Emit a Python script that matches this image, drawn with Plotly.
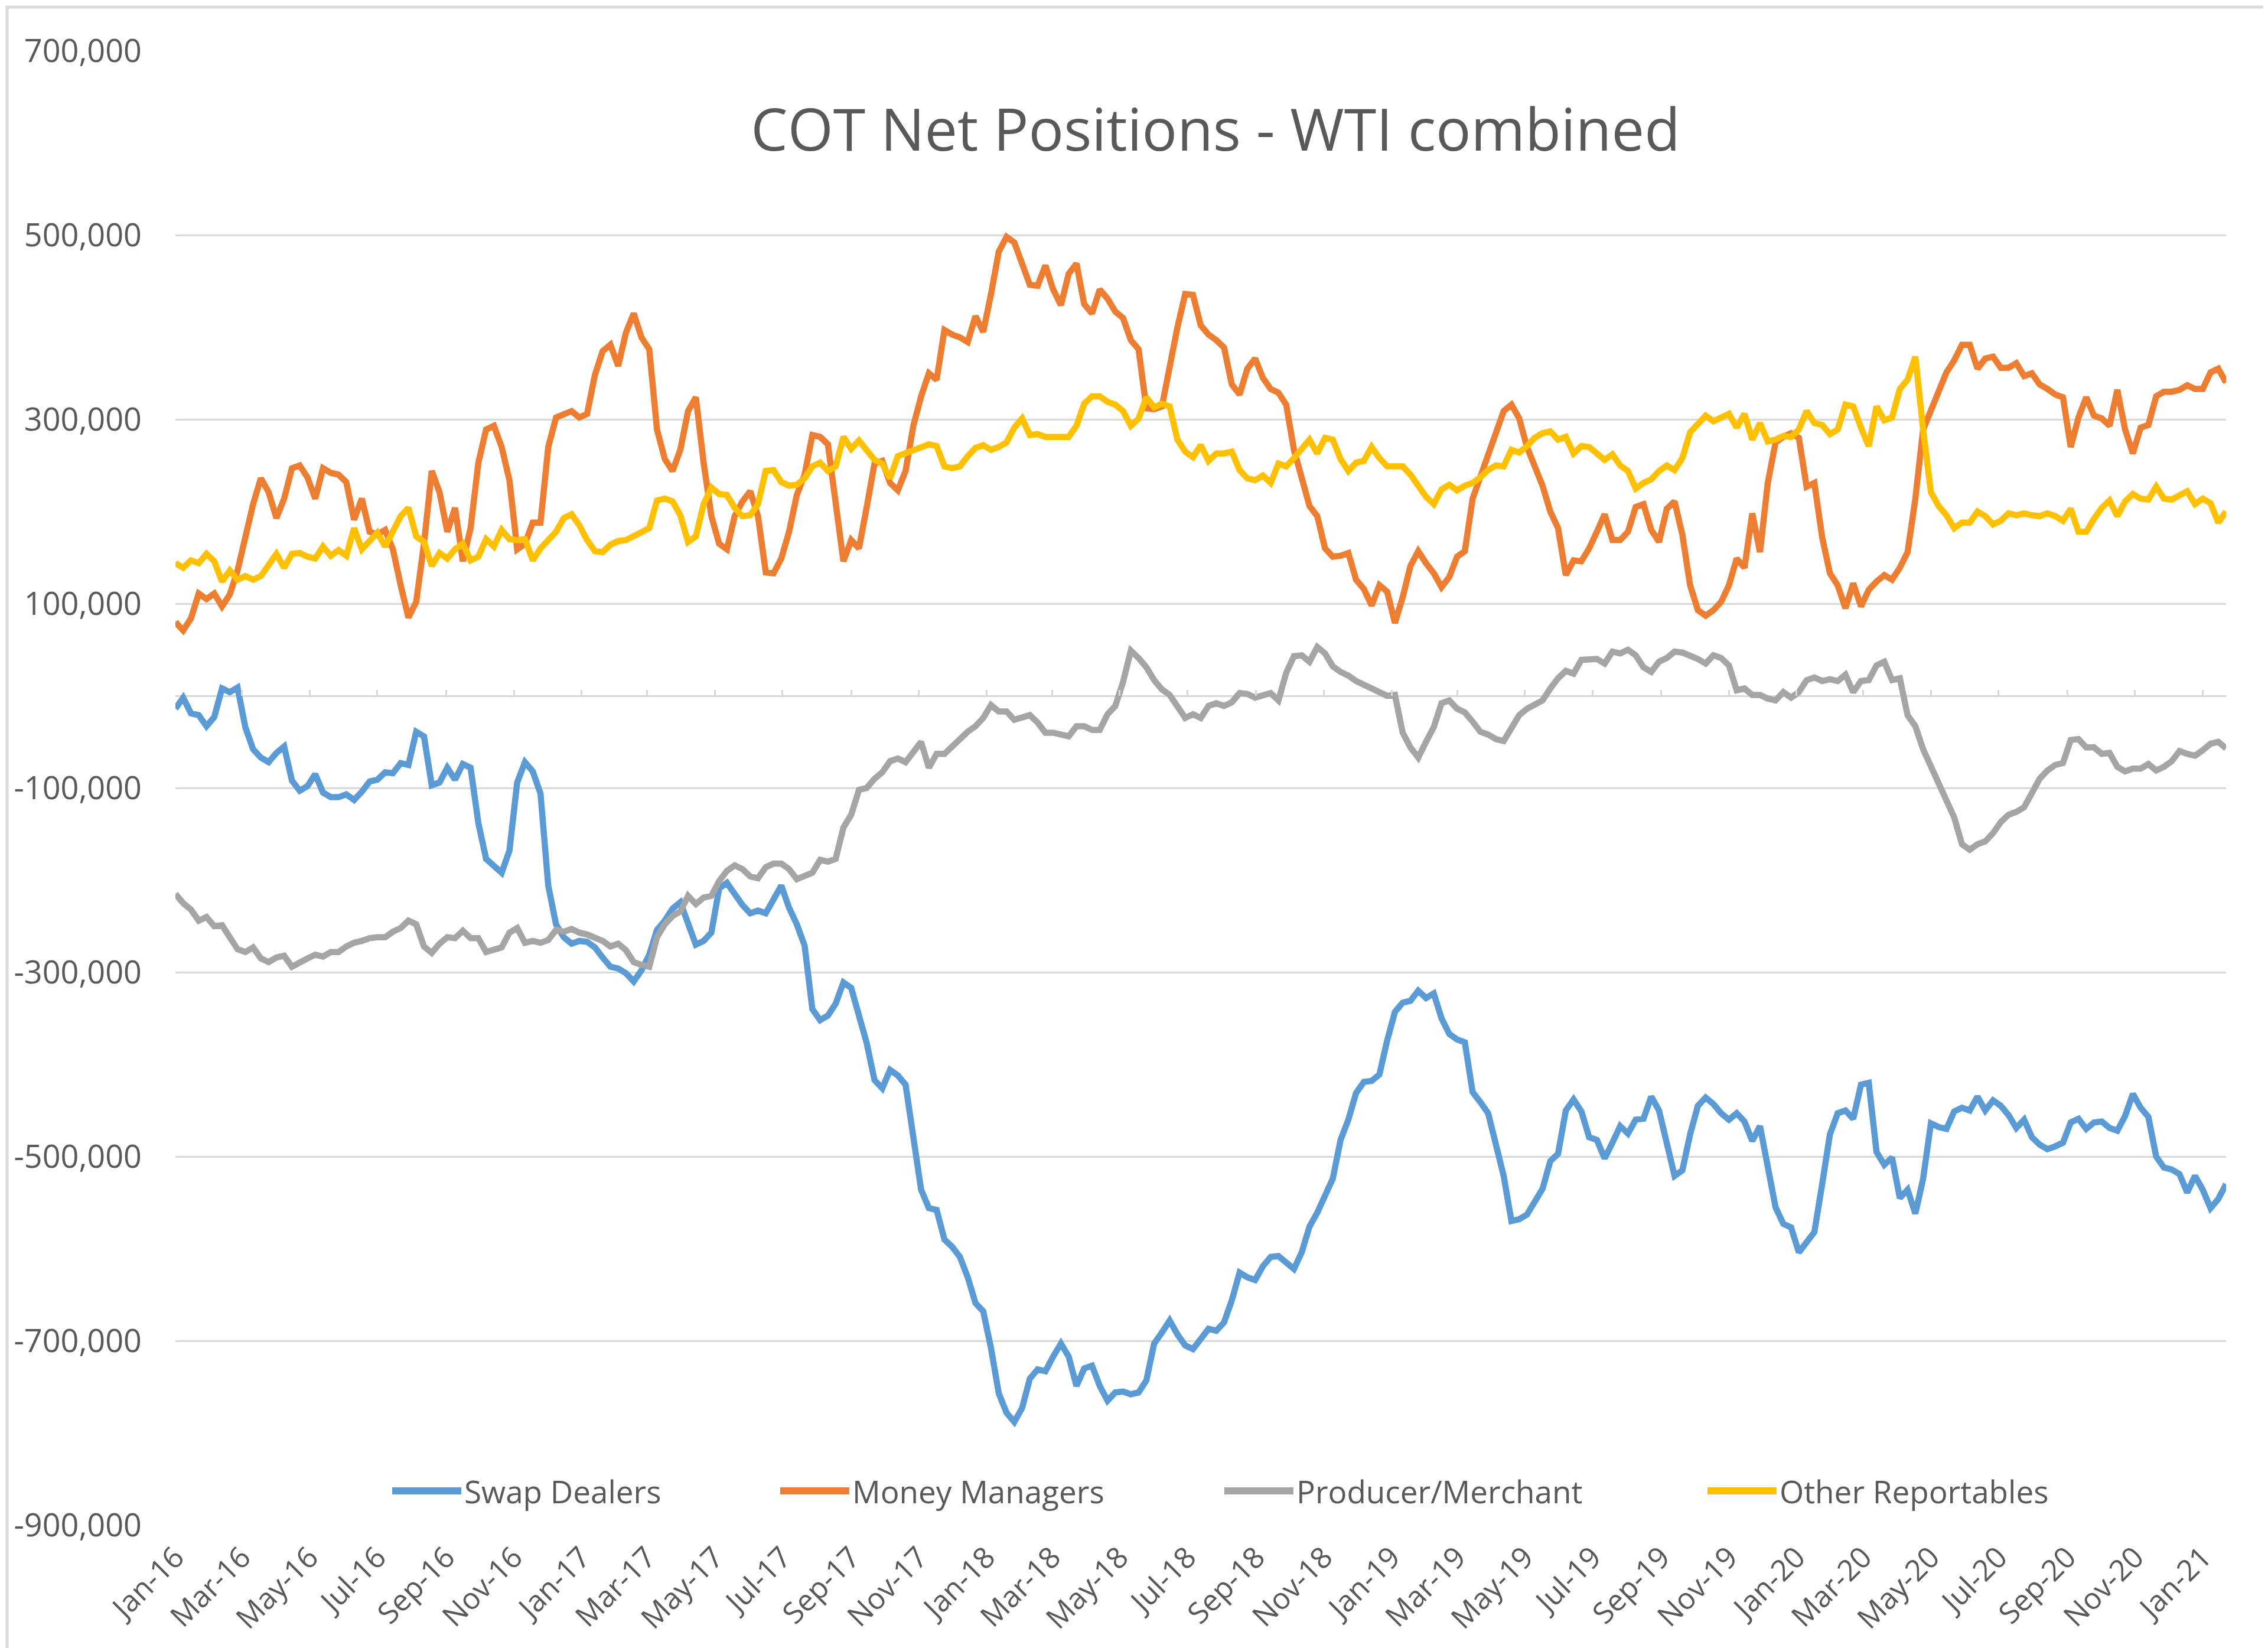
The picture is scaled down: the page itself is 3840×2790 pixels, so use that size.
import pandas as pd
import plotly.graph_objects as go

# weekly COT report dates (Tuesdays)
weeks = pd.date_range("2016-01-05", periods=265, freq="7D")
tick_dates = pd.date_range("2016-01-01", "2021-01-01", freq="2MS") + pd.Timedelta(days=4)
y_ticks = list(range(-900000, 700001, 200000))

# net positions, thousands of contracts
swap_dealers = [
    -14, -2, -19, -21, -33, -23, 8, 4, 9, -34,
    -58, -67, -72, -62, -55, -92, -103, -98, -85, -105,
    -110, -110, -107, -113, -104, -93, -91, -83, -84, -73,
    -75, -39, -44, -97, -94, -78, -91, -74, -78, -138,
    -177, -184, -192, -168, -94, -72, -82, -106, -206, -248,
    -262, -269, -266, -267, -273, -284, -294, -296, -301, -310,
    -298, -281, -254, -244, -231, -224, -245, -270, -266, -257,
    -209, -203, -215, -227, -236, -233, -236, -221, -206, -230,
    -248, -271, -340, -352, -347, -334, -311, -317, -345,
    -377, -417, -426, -406, -412, -422, -482, -536, -556, -558, -590,
    -598, -609, -631, -659, -668, -708, -757, -778, -788, -773,
    -741, -731, -733, -717, -703, -717, -749, -730, -727, -749,
    -765, -756, -755, -758, -756, -743, -703, -691, -678, -693,
    -705, -709, -697, -687, -689, -680, -656, -626, -631, -634,
    -619, -609, -608, -615, -622, -604, -576, -561, -543, -524,
    -482, -460, -431, -419, -418, -411, -374, -343, -333, -331,
    -320, -328, -323, -350, -367, -373, -376, -430, -441, -453,
    -487, -521, -570, -568, -563, -548, -535,
    -505, -497, -450,
    -438, -451, -479, -482, -502, -485, -467, -475, -460, -459,
    -435, -450, -487, -521, -515, -476, -445, -436, -443, -453,
    -460, -453, -462, -483, -467, -509, -555, -573, -577, -604,
    -593, -582, -530, -476, -453, -450, -459, -422, -420, -495,
    -509, -501, -545, -536, -562, -524, -464, -468, -470, -451,
    -447, -450, -435, -450, -439, -445, -455, -469, -460, -479,
    -487, -492, -489, -485, -463, -459, -470, -463, -462, -469,
    -472, -456, -432, -447, -457, -500, -512, -514, -519, -539,
    -521, -536, -556, -546, -530,
]

money_managers = [
    80, 71, 84, 111, 105, 111, 97, 110, 136, 175,
    208, 236, 221, 193, 214, 247, 250, 237, 214, 247,
    242, 240, 232, 191, 214, 178, 175, 180, 159, 120,
    85, 102, 165, 244, 221, 178, 204, 146, 182, 253,
    289, 293, 270, 234, 159, 165, 188, 188, 270, 302,
    306, 309, 302, 306, 348, 374, 381, 358, 394, 415,
    389, 376, 289, 257, 244, 267, 309, 324, 253, 195,
    165, 159, 195, 211, 222, 195, 134, 133, 149, 178,
    218, 240, 283, 281, 273, 214, 146, 169, 160,
    205, 252, 255, 231, 223, 244, 293, 325, 350, 343, 397,
    392, 389, 384, 412, 395, 436, 482, 498, 492, 469,
    446, 445, 467, 441, 424, 458, 469, 425, 415, 441,
    431, 417, 410, 386, 376, 312, 311, 314, 360, 400,
    436, 435, 402, 392, 386, 378, 338, 327, 355, 366,
    345, 333, 329, 316, 267, 234, 206, 195, 160, 151,
    152, 155, 126, 116, 98, 120, 113, 79, 107, 141,
    157, 144, 133, 118, 129, 151, 157, 214, 239, 260,
    289, 309, 316, 301, 270, 247,
    228, 200, 182, 131,
    147, 146, 160, 178, 197, 169, 169, 178, 205, 208,
    180, 167, 203, 211, 175, 120, 93, 87, 93, 102,
    120, 149, 139, 198, 156, 231, 275, 281, 285, 280,
    227, 231, 172, 133, 120, 95, 122, 97, 115, 124,
    131, 126, 139, 156, 214, 289, 309, 333, 351, 364,
    381, 381, 355, 366, 368, 356, 356, 361, 347, 350,
    338, 333, 327, 324, 270, 302, 324, 304, 301, 293,
    332, 289, 263, 291, 294, 325, 330, 330, 332, 337,
    333, 333, 351, 355, 340,
]

producer_merchant = [
    -215, -225, -232, -244, -240, -250, -249, -263, -275, -278,
    -273, -285, -289, -284, -282, -294, -289, -285, -281, -283,
    -278, -278, -272, -268, -266, -263, -262, -262, -256, -252,
    -244, -248, -272, -279, -269, -262, -263, -255, -263, -263,
    -278, -276, -273, -257, -252, -268, -266, -268, -265, -254,
    -256, -253, -257, -259, -262, -266, -272, -269, -276, -289,
    -292, -294, -262, -248, -239, -234, -217, -226, -219, -217,
    -201, -190, -184, -188, -196, -198, -186, -182, -182, -188,
    -199, -195, -192, -178, -180, -177, -143, -129, -102,
    -100, -90, -83, -71, -68, -72, -61, -50, -78, -63, -63,
    -54, -47, -39, -33, -24, -10, -17, -17, -26, -24,
    -21, -29, -40, -40, -42, -44, -33, -33, -37, -37,
    -20, -11, 15, 49, 41, 31, 17, 7, 1, -11,
    -24, -20, -24, -11, -8, -11, -7, 3, 2, -2,
    1, 3, -5, 25, 43, 44, 37, 53, 46, 32,
    26, 22, 16, 12, 8, 4, 0, 1, -40, -56,
    -67, -50, -34, -8, -5, -14, -18, -28, -39, -42,
    -47, -49, -35, -21, -14, -10,
    -5, 8, 19, 27,
    24, 39, 40, 40, 35, 48, 46, 50, 44, 31,
    26, 37, 41, 48, 47, 44, 40, 35, 44, 41,
    33, 6, 8, 1, 1, -3, -5, 4, -2, 4,
    17, 20, 16, 18, 16, 23, 4, 16, 17, 33,
    37, 17, 19, -21, -33, -58, -76, -93, -114, -132,
    -161, -167, -161, -158, -149, -137, -129, -126, -121, -104,
    -90, -81, -75, -73, -48, -47, -56, -56, -63, -62,
    -77, -82, -79, -79, -74, -81, -77, -71, -60, -63,
    -65, -59, -52, -50, -57,
]

other_reportables = [
    144, 139, 147, 144, 154, 146, 124, 136, 126, 130,
    126, 130, 142, 154, 139, 154, 155, 151, 149, 162,
    152, 158, 152, 182, 159, 169, 177, 162, 177, 195,
    204, 173, 167, 141, 155, 149, 159, 165, 147, 151,
    170, 162, 180, 170, 169, 170, 147, 160, 169, 178,
    193, 197, 185, 169, 157, 156, 164, 168, 169, 173,
    177, 182, 212, 214, 211, 196, 167, 173, 208, 226,
    219, 218, 204, 195, 196, 208, 244, 245, 232, 228,
    229, 236, 249, 253, 244, 249, 281, 268, 277,
    267, 256, 252, 236, 260, 263, 267, 270, 273, 271, 249,
    247, 249, 260, 269, 272, 267, 270, 275, 291, 301,
    283, 284, 281, 281, 281, 281, 293, 317, 325, 325,
    319, 316, 309, 293, 301, 324, 313, 317, 314, 278,
    265, 259, 272, 255, 263, 263, 265, 245, 236, 234,
    239, 231, 252, 249, 258, 269, 278, 263, 280, 278,
    257, 244, 253, 255, 270, 258, 249, 249, 249, 240,
    227, 216, 208, 224, 229, 223, 228, 231, 237, 245,
    250, 249, 267, 264, 271, 280,
    285, 287, 278, 281,
    263, 271, 270, 263, 256, 262, 250, 244, 225, 231,
    235, 244, 250, 245, 258, 286, 294, 304, 298, 302,
    306, 291, 306, 278, 296, 276, 278, 282, 281, 289,
    309, 296, 294, 284, 289, 316, 314, 291, 271, 314,
    299, 302, 333, 343, 368, 289, 221, 206, 196, 182,
    188, 188, 200, 195, 186, 190, 198, 196, 198, 196,
    195, 198, 195, 190, 203, 178, 178, 192, 204, 212,
    195, 211, 219, 214, 213, 227, 214, 213, 217, 222,
    208, 214, 209, 188, 200,
]

names = ["Swap Dealers", "Money Managers", "Producer/Merchant", "Other Reportables"]
colors = ["#5B9BD5", "#ED7D31", "#A5A5A5", "#FFC000"]
series = [swap_dealers, money_managers, producer_merchant, other_reportables]

FONT = "Open Sans"
GREY = "#595959"
GRID = "#D9D9D9"
x_range = [weeks[0], weeks[-1]]

fig = go.Figure()
for i, (name, vals) in enumerate(zip(names, series)):
    fig.add_scatter(
        x=weeks,
        y=[v * 1000 for v in vals],
        mode="lines",
        name=name,
        line={"color": colors[i], "width": 10.5},
        # last series sits on the overlay axis that carries the ticks at zero
        xaxis="x2" if i == 3 else "x",
        showlegend=False,
        hoverinfo="skip",
    )

# hand-made legend so the line samples are as long as Excel's
legend_x = [0.1057, 0.2949, 0.5115, 0.7471]
legend_y = 0.0232
for i, name in enumerate(names):
    x0 = legend_x[i]
    fig.add_shape(type="line", xref="paper", yref="paper",
                  x0=x0, x1=x0 + 0.0337, y0=legend_y, y1=legend_y,
                  line={"color": colors[i], "width": 12})
    fig.add_annotation(text=name, xref="paper", yref="paper",
                       x=x0 + 0.0347, y=legend_y, xanchor="left", yanchor="middle",
                       showarrow=False, font={"family": FONT, "size": 53, "color": GREY})

# chart-area border
fig.add_shape(type="rect", xref="paper", yref="paper",
              x0=-0.0821, x1=1.0196, y0=-0.0853, y1=1.0296,
              line={"color": GRID, "width": 5}, layer="below")

fig.update_layout(
    width=3840,
    height=2790,
    paper_bgcolor="white",
    plot_bgcolor="white",
    margin={"l": 289, "r": 79, "t": 78, "b": 216},
    font={"family": FONT, "color": GREY},
    title={
        "text": "COT Net Positions - WTI combined",
        "x": 0.5072, "xref": "paper", "xanchor": "center",
        "y": 0.924, "yanchor": "middle",
        "font": {"family": FONT, "size": 99, "color": GREY},
    },
    xaxis={
        "type": "date",
        "range": x_range,
        "tickvals": tick_dates,
        "tickformat": "%b-%y",
        "tickangle": -45,
        "tickfont": {"size": 50, "color": GREY},
        "ticklabelstandoff": 14,
        "showgrid": False,
        "showline": False,
        "zeroline": False,
        "ticks": "",
    },
    xaxis2={
        "type": "date",
        "range": x_range,
        "overlaying": "x",
        "anchor": "free",
        "position": 0.5625,
        "side": "bottom",
        "tickvals": tick_dates,
        "ticks": "inside",
        "ticklen": 10,
        "tickwidth": 3,
        "tickcolor": GRID,
        "showticklabels": False,
        "showgrid": False,
        "showline": False,
        "zeroline": False,
    },
    yaxis={
        "range": [-900000, 700000],
        "tickvals": y_ticks,
        "ticktext": [f"{v:,}" for v in y_ticks],
        "tickfont": {"size": 54, "color": GREY},
        "ticklabelstandoff": 56,
        "showgrid": True,
        "gridcolor": GRID,
        "gridwidth": 3,
        "zeroline": True,
        "zerolinecolor": GRID,
        "zerolinewidth": 3,
        "showline": False,
        "ticks": "",
    },
)

fig.write_html("out.html")
